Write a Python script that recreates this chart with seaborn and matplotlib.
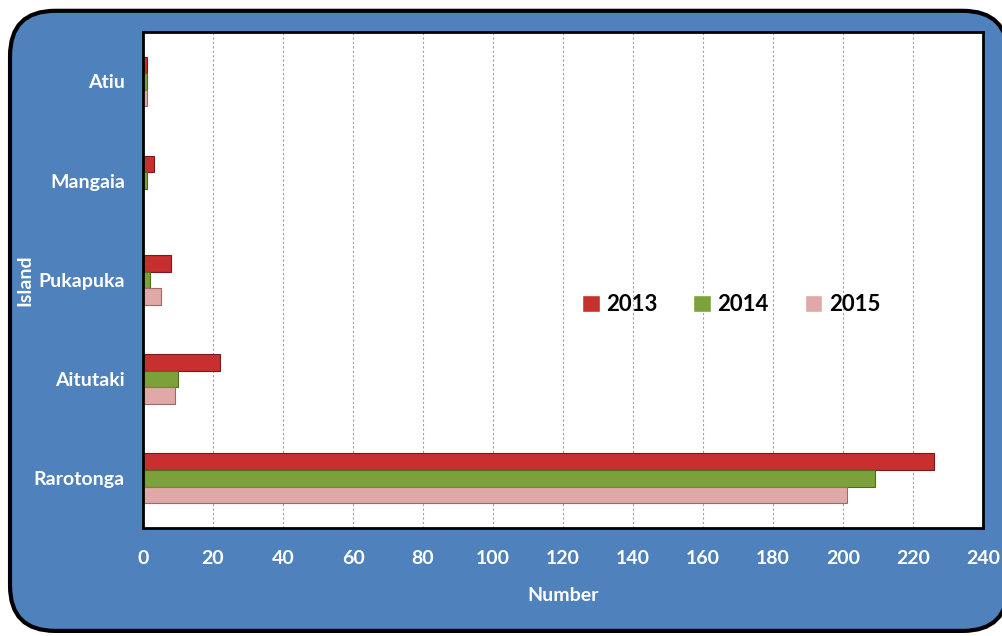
import numpy as np
import pandas as pd
import matplotlib
matplotlib.use("Agg")
import matplotlib.pyplot as plt
import seaborn as sns
from matplotlib.patches import FancyBboxPatch

# data
islands = ["Atiu", "Mangaia", "Pukapuka", "Aitutaki", "Rarotonga"]
years = ["2013", "2014", "2015"]
vals_2013 = [1, 3, 8, 22, 226]
vals_2014 = [1, 1, 2, 10, 209]
vals_2015 = [1, 0, 5, 9, 201]

df = pd.DataFrame({
    "Island": islands * 3,
    "Year": [y for y in years for _ in islands],
    "Number": vals_2013 + vals_2014 + vals_2015,
})

colors = {"2013": "#C8302F", "2014": "#7DA13A", "2015": "#E0A9A8"}
edges = {"2013": "#7A1A1A", "2014": "#4E6B20", "2015": "#9A6A6A"}

sns.set_style("white")
plt.rcParams["font.family"] = ["Lato", "DejaVu Sans"]

fig = plt.figure(figsize=(10.03, 6.36), dpi=100)
fig.patch.set_facecolor("white")

# rounded blue background panel
panel = FancyBboxPatch((0.010, 0.008), 0.995, 0.975,
                       boxstyle="round,pad=0,rounding_size=0.045",
                       transform=fig.transFigure, facecolor="#4F81BD",
                       edgecolor="black", linewidth=3, mutation_aspect=1.58,
                       zorder=-10)
fig.add_artist(panel)

ax = fig.add_axes([0.1426, 0.170, 0.8375, 0.780])
ax.set_zorder(1)
ax.set_facecolor("white")

sns.barplot(data=df, y="Island", x="Number", hue="Year", order=islands,
            hue_order=years, palette=colors, orient="h", width=0.5,
            saturation=1, ax=ax, legend=True)

for cont, yr in zip(ax.containers, years):
    for bar in cont:
        bar.set_edgecolor(edges[yr])
        bar.set_linewidth(0.8)

ax.set_xlim(0, 240)
ax.set_xticks(np.arange(0, 241, 20))
ax.set_ylim(4.5, -0.5)
ax.grid(axis="x", color="#A0A0A0", linestyle=(0, (2, 2)), linewidth=0.8)
ax.set_axisbelow(True)

for s in ax.spines.values():
    s.set_color("black")
    s.set_linewidth(2)

ax.tick_params(axis="x", colors="white", labelsize=14, pad=11,
               length=5, width=0.8, direction="out")
ax.tick_params(axis="x", which="major", color="#A0A0A0")
ax.tick_params(axis="y", colors="white", labelsize=14, pad=13, length=0)
for lbl in ax.get_xticklabels() + ax.get_yticklabels():
    lbl.set_fontweight("bold")
    lbl.set_color("white")

ax.set_xlabel("Number", color="white", fontsize=14, fontweight="bold",
              labelpad=14)
ax.set_ylabel("Island", color="white", fontsize=14, fontweight="bold",
              labelpad=0)

leg = ax.legend(loc="center", bbox_to_anchor=(0.70, 0.45), ncol=3,
                frameon=False, handlelength=0.8, handleheight=0.8,
                columnspacing=1.6, handletextpad=0.3,
                prop={"weight": "bold", "size": 16})
for t in leg.get_texts():
    t.set_color("black")

fig.savefig("out.png", dpi=100)
